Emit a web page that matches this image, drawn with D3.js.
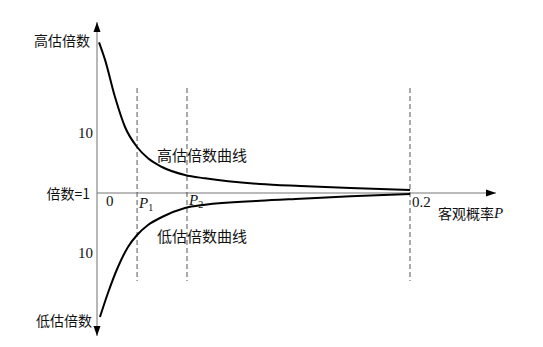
<!DOCTYPE html>
<html>
<head>
<meta charset="utf-8">
<script src="https://cdn.jsdelivr.net/npm/d3@7"></script>
<style>
  body { margin: 0; background: #fff; }
  .cjk { font-family: "Noto Sans CJK SC", sans-serif; font-size: 14px; fill: #111; }
  .cjk-big { font-family: "Noto Sans CJK SC", sans-serif; font-size: 15px; fill: #111; }
  .num { font-family: "Liberation Serif", "Times New Roman", serif; font-size: 15px; fill: #111; }
</style>
</head>
<body>
<div id="wrapper"></div>
<script>
// objective probability P (x) and over/under-estimation multiple (y)
const highP = [0.0013, 0.0051, 0.0115, 0.0179, 0.0256, 0.0326, 0.0415, 0.0562, 0.069, 0.104, 0.130, 0.162, 0.2]
const highMultiple = [23.6, 21.0, 15.4, 10.9, 7.9, 6.2, 4.9, 3.7, 3.2, 2.35, 2.05, 1.75, 1.45]
const lowP = [0.0019, 0.0070, 0.0134, 0.0198, 0.0256, 0.0326, 0.0415, 0.0562, 0.069, 0.104, 0.130, 0.162, 0.2]
const lowMultiple = [19.6, 16.0, 12.1, 9.1, 7.3, 5.8, 4.6, 3.25, 2.75, 2.15, 1.85, 1.5, 1.15]
const markP = [0.0256, 0.0575, 0.2]
const markLabels = ["P1", "P2", "0.2"]

async function drawChart() {
  const dimensions = { width: 543, height: 347 }

  const wrapper = d3.select("#wrapper")
    .append("svg")
      .attr("width", dimensions.width)
      .attr("height", dimensions.height)

  // scales: x = probability, y = signed deviation from multiple 1
  const xScale = d3.scaleLinear().domain([0, 0.2]).range([97, 410])
  const yScale = d3.scaleLinear().domain([-9, 9]).range([253, 133])
  const x0 = xScale(0), y0 = yScale(0)

  const defs = wrapper.append("defs")
  defs.append("marker")
      .attr("id", "arrow")
      .attr("viewBox", "0 0 10 10")
      .attr("refX", 10).attr("refY", 5)
      .attr("markerWidth", 10).attr("markerHeight", 10)
      .attr("markerUnits", "userSpaceOnUse")
      .attr("orient", "auto")
    .append("path")
      .attr("d", "M0,1.5 L10,5 L0,8.5 Z")
      .attr("fill", "#000")

  // axes
  wrapper.append("line")
      .attr("x1", x0).attr("x2", x0)
      .attr("y1", y0).attr("y2", 22)
      .attr("stroke", "#888").attr("stroke-width", 1.2)
      .attr("marker-end", "url(#arrow)")
  wrapper.append("line")
      .attr("x1", x0).attr("x2", x0)
      .attr("y1", y0).attr("y2", 336)
      .attr("stroke", "#888").attr("stroke-width", 1.2)
      .attr("marker-end", "url(#arrow)")
  wrapper.append("line")
      .attr("x1", x0).attr("x2", 496)
      .attr("y1", y0).attr("y2", y0)
      .attr("stroke", "#777").attr("stroke-width", 1)
      .attr("marker-end", "url(#arrow)")

  // dashed guide lines
  wrapper.selectAll(".guide")
    .data(markP)
    .join("line")
      .attr("class", "guide")
      .attr("x1", d => xScale(d)).attr("x2", d => xScale(d))
      .attr("y1", 88).attr("y2", 281)
      .attr("stroke", "#555").attr("stroke-width", 1)
      .attr("stroke-dasharray", "5,3")

  // curves
  const highLine = d3.line()
      .x(d => xScale(d[0]))
      .y(d => yScale(d[1] - 1))
      .curve(d3.curveMonotoneX)
  const lowLine = d3.line()
      .x(d => xScale(d[0]))
      .y(d => yScale(-(d[1] - 1)))
      .curve(d3.curveMonotoneX)

  wrapper.append("path")
      .attr("d", highLine(d3.zip(highP, highMultiple)))
      .attr("fill", "none").attr("stroke", "#000").attr("stroke-width", 2)
  wrapper.append("path")
      .attr("d", lowLine(d3.zip(lowP, lowMultiple)))
      .attr("fill", "none").attr("stroke", "#000").attr("stroke-width", 2)

  // labels
  const text = (x, y, str, cls, anchor) => wrapper.append("text")
      .attr("class", cls)
      .attr("x", x).attr("y", y)
      .attr("text-anchor", anchor || "start")
      .attr("dominant-baseline", "central")
      .text(str)

  text(90, 40, "高估倍数", "cjk", "end")
  text(93, yScale(9), "10", "num", "end")
  text(90, y0, "倍数=1", "cjk", "end")
  text(93, yScale(-9), "10", "num", "end")
  text(92, 320, "低估倍数", "cjk", "end")
  text(106, 201, "0", "num")
  text(157, 154, "高估倍数曲线", "cjk-big")
  text(157, 235, "低估倍数曲线", "cjk-big")
  text(xScale(markP[2]) + 2, 202, markLabels[2], "num")

  // P1, P2 with subscripts
  markP.slice(0, 2).forEach((p, i) => {
    const t = wrapper.append("text")
        .attr("class", "num")
        .attr("x", xScale(p) + 2)
        .attr("y", i === 0 ? 203 : 200)
        .attr("dominant-baseline", "central")
    t.append("tspan").style("font-style", "italic").text(markLabels[i][0])
    t.append("tspan").attr("dy", 4).style("font-size", "10px").text(markLabels[i][1])
  })

  const xt = wrapper.append("text")
      .attr("x", 438).attr("y", 213)
      .attr("dominant-baseline", "central")
  xt.append("tspan").attr("class", "cjk").text("客观概率")
  xt.append("tspan").attr("class", "num").style("font-style", "italic").text("P")
}
drawChart()
</script>
</body>
</html>
